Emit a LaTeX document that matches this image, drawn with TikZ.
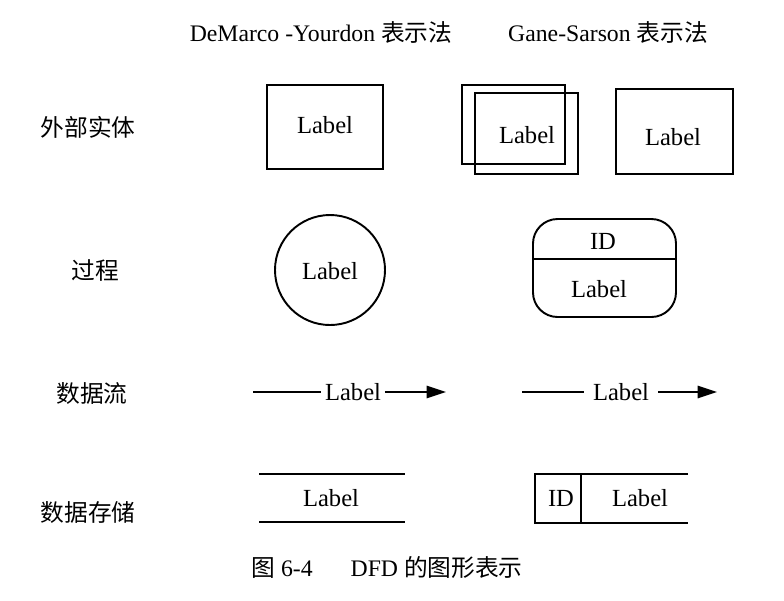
\documentclass[tikz,border=0pt]{standalone}
\usepackage{fontspec}
\setmainfont{Liberation Serif}
\newfontfamily\cjk{Noto Sans CJK SC}
\usetikzlibrary{arrows.meta}

\tikzset{
  lbl/.style={font=\fontsize{14}{16}\selectfont, inner sep=0pt},
  hdr/.style={font=\fontsize{13.5}{16}\selectfont, inner sep=0pt},
  zh/.style={font=\cjk\fontsize{13.5}{16}\selectfont, inner sep=0pt},
  shp/.style={line width=1.1pt},
  flowtip/.style={-{Triangle[length=11pt,width=7pt]}}
}

\begin{document}
\begin{tikzpicture}[x=0.02cm,y=-0.02cm]
  \useasboundingbox (0,0) rectangle (784,600);

  % headers
  \node[hdr] (hdy) at (321,32) {DeMarco -Yourdon {\cjk 表示法}};
  \node[hdr] (hgs) at (608,32) {Gane-Sarson {\cjk 表示法}};

  % row names
  \node[zh] (r1) at (88,127) {外部实体};
  \node[zh] (r2) at (95,270) {过程};
  \node[zh] (r3) at (92,393) {数据流};
  \node[zh] (r4) at (88,512) {数据存储};

  % external entity
  \draw[shp] (267,85) rectangle (383,169);
  \node[lbl] (e1) at (325,125) {Label};

  \draw[shp] (462,85) rectangle (565,164);
  \draw[shp] (475,93) rectangle (578,174);
  \node[lbl] (e2) at (527,135) {Label};

  \draw[shp] (616,89) rectangle (733,174);
  \node[lbl] (e3) at (673,137) {Label};

  % process
  \draw[shp] (330,270) circle (55);
  \node[lbl] (p1) at (330,271) {Label};

  \draw[shp, rounded corners=14pt] (533,219) rectangle (676,317);
  \draw[shp] (533,259) -- (676,259);
  \node[lbl] (pid) at (603,241) {ID};
  \node[lbl] (p2) at (599,289) {Label};

  % data flow
  \coordinate (f1s) at (253,392);
  \coordinate (f1e) at (446,392);
  \node[lbl, inner xsep=2pt] (f1) at (353,392) {Label};
  \draw[shp] (f1s) -- (f1);
  \draw[shp, flowtip] (f1) -- (f1e);

  \coordinate (f2s) at (522,392);
  \coordinate (f2e) at (717,392);
  \node[lbl, inner xsep=5pt] (f2) at (621,392) {Label};
  \draw[shp] (f2s) -- (f2);
  \draw[shp, flowtip] (f2) -- (f2e);

  % data store
  \draw[shp] (259,474) -- (405,474);
  \draw[shp] (259,522) -- (405,522);
  \node[lbl] (s1) at (331,498) {Label};

  \draw[shp] (688,474) -- (535,474) -- (535,523) -- (688,523);
  \draw[shp] (581,474) -- (581,523);
  \node[lbl] (sid) at (561,498) {ID};
  \node[lbl] (s2) at (640,498) {Label};

  % caption
  \node[hdr] (cap) at (387,567) {{\cjk 图} 6-4\hspace{1.6em}DFD {\cjk 的图形表示}};
\end{tikzpicture}
\end{document}
